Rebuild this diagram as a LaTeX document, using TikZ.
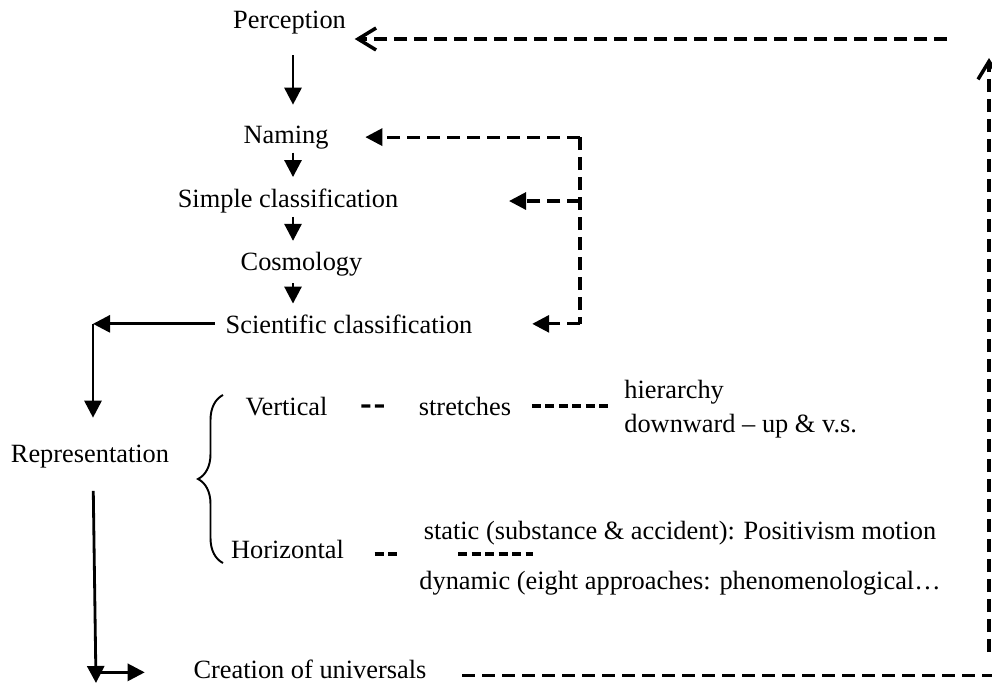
\documentclass[tikz,border=0pt]{standalone}
\usepackage{fontspec}
\setmainfont{Liberation Serif}
\usepackage{tikz}
\usetikzlibrary{
  arrows.meta,
  calc,
  decorations.pathreplacing
}
\tikzset{
  arrow/.style     = {-{Triangle[length=0.34cm, width=0.34cm]}, line width=1.6pt},
  dashline/.style  = {line width=1.8pt, dash pattern=on 0.26cm off 0.14cm},
  shortdash/.style = {line width=1.8pt, dash pattern=on 0.18cm off 0.09cm},
  dasharrow/.style = {dashline, -{Triangle[length=0.34cm, width=0.34cm]}},
  barbarrow/.style = {dashline, -{Straight Barb[length=0.36cm, width=0.44cm, line width=2pt]}},
  brace/.style     = {decorate, decoration={brace, amplitude=0.5cm}, line width=1.1pt},
  lbl/.style       = {inner sep=2pt, anchor=base},
}

\begin{document}
\begin{tikzpicture}[every node/.style={font=\fontsize{15}{18}\selectfont}]

    \useasboundingbox (0,0) rectangle (19.84,13.70);

    % --- MAIN COLUMN ---
    \node[lbl] (perc) at (5.79, 13.12) {Perception};
    \node[lbl] (name) at (5.72, 10.84) {Naming};
    \node[lbl] (simp) at (5.76, 9.55) {Simple classification};
    \node[lbl] (cosm) at (6.03, 8.30) {Cosmology};
    \node[lbl] (sci)  at (6.98, 7.04) {Scientific classification};

    \coordinate (col) at (5.86, 0);
    \draw[arrow, shorten <=0.34cm, shorten >=0.34cm] (perc.south -| col) -- (name.north -| col);
    \draw[arrow, shorten >=0.16cm] (name.south -| col) -- (simp.north -| col);
    \draw[arrow, shorten >=0.14cm] (simp.south -| col) -- (cosm.north -| col);
    \draw[arrow, shorten <=0.07cm, shorten >=0.14cm] (cosm.south -| col) -- (sci.north -| col);

    % --- DASHED RETURNS ---
    \coordinate (fork) at (11.6, 0);
    \draw[dashline] (name.east -| fork) -- (sci.east -| fork);
    \draw[dasharrow, shorten >=0.66cm] (name.east -| fork) -- (name.east);
    \draw[dasharrow, shorten >=2.14cm] (simp.east -| fork) -- (simp.east);
    \draw[dasharrow, shorten >=1.12cm] (sci.east -| fork) -- (sci.east);

    % --- LEFT: REPRESENTATION ---
    \node[lbl] (rep) at (1.80, 4.46) {Representation};
    \coordinate (corner) at (1.86, 0);
    \draw[arrow, shorten <=0.14cm] (sci.west) -- (sci.west -| corner);
    \draw[arrow, shorten >=0.46cm] (sci.west -| corner) -- (rep.north -| corner);

    % --- BRANCHES ---
    \draw[brace] (4.46, 2.44) -- (4.46, 5.80);

    \node[lbl] (vert) at (5.73, 5.40) {Vertical};
    \node[lbl] (str)  at (9.30, 5.40) {stretches};
    \node[lbl, anchor=base west] (hier) at (12.41, 5.74) {hierarchy};
    \node[lbl, anchor=base west] (down) at (12.41, 5.06) {downward – up \& v.s.};
    \draw[shortdash, shorten <=0.6cm, shorten >=0.54cm] (vert.east) -- (str.west);
    \draw[shortdash, shorten <=0.34cm, shorten >=0.25cm] (str.east) -- (str.east -| hier.west);

    \node[lbl] (horiz) at (5.75, 2.54) {Horizontal};
    \node[lbl] (stat)  at (13.6, 2.92) {static (substance \& accident): Positivism motion};
    \node[lbl] (dyn)   at (13.6, 1.92) {dynamic (eight approaches: phenomenological\ldots};
    \coordinate (hsplit) at (9.16, 0);
    \draw[shortdash, shorten <=0.54cm] ([yshift=-0.1cm]horiz.east) -- ++(0.98,0);
    \draw[shortdash] ([yshift=-0.1cm]horiz.east -| hsplit) -- ++(1.5,0);

    % --- BOTTOM: CREATION ---
    \node[lbl] (crea) at (6.20, 0.13) {Creation of universals};
    \coordinate (foot) at (1.92, 0.04);
    \draw[arrow, shorten <=0.39cm] (rep.south -| corner) -- (foot);
    \draw[arrow, shorten >=0.9cm] ([yshift=-0.06cm]foot |- crea.west) -- ([yshift=-0.06cm]crea.west);

    % --- OUTER LOOP BACK TO PERCEPTION ---
    \coordinate (redge) at (19.84, 0);
    \coordinate (rbot) at (19.78, 0.66);
    \coordinate (rtop) at (19.78, 12.54);
    \coordinate (tstart) at (18.94, 12.92);
    \draw[dashline, shorten <=0.64cm] ([yshift=-0.12cm]crea.east) -- ([yshift=-0.12cm]crea.east -| redge);
    \draw[barbarrow] (rbot) -- (rtop);
    \draw[barbarrow, shorten >=0.1cm] (tstart) -- (tstart -| perc.east);

\end{tikzpicture}
\end{document}
